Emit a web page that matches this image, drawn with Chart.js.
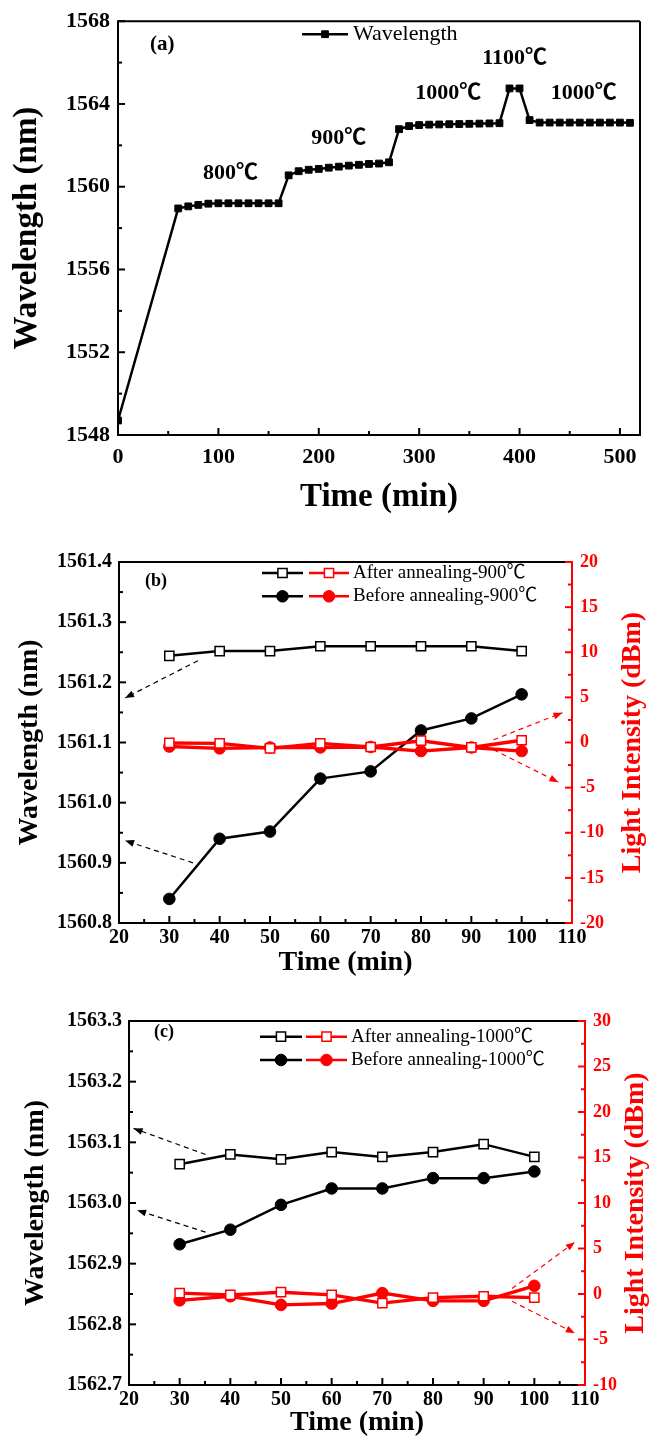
<!DOCTYPE html>
<html>
<head>
<meta charset="utf-8">
<title>Wavelength and light intensity during annealing</title>
<script src="https://cdn.jsdelivr.net/npm/chart.js@4.4.1/dist/chart.umd.min.js"></script>
<style>
  body { margin: 0; background: #fff; }
  canvas { display: block; }
</style>
</head>
<body>
<canvas id="chartA" width="651" height="520"></canvas>
<canvas id="chartB" width="651" height="460"></canvas>
<canvas id="chartC" width="651" height="456"></canvas>
<script>
// --- data (a): wavelength during the stepped annealing ---
const aTime = [0,
  60, 70, 80, 90, 100, 110, 120, 130, 140, 150, 160,
  170, 180, 190, 200, 210, 220, 230, 240, 250, 260, 270,
  280, 290, 300, 310, 320, 330, 340, 350, 360, 370, 380,
  390, 400,
  410, 420, 430, 440, 450, 460, 470, 480, 490, 500, 510];
const aWave = [1548.7,
  1558.95, 1559.05, 1559.12, 1559.18, 1559.2, 1559.2, 1559.2, 1559.2, 1559.2, 1559.2, 1559.2,
  1560.55, 1560.75, 1560.82, 1560.86, 1560.92, 1560.97, 1561.02, 1561.06, 1561.1, 1561.12, 1561.18,
  1562.78, 1562.93, 1562.98, 1563.0, 1563.01, 1563.02, 1563.03, 1563.04, 1563.05, 1563.06, 1563.07,
  1564.75, 1564.75,
  1563.22, 1563.1, 1563.1, 1563.1, 1563.1, 1563.1, 1563.1, 1563.1, 1563.1, 1563.1, 1563.09];
const aTimeTicks = [0, 100, 200, 300, 400, 500];
const aWaveTicks = [1548, 1552, 1556, 1560, 1564, 1568];

// --- data (b): 900 C ---
const bTime = [30, 40, 50, 60, 70, 80, 90, 100];
const bAfterWave = [1561.244, 1561.252, 1561.252, 1561.26, 1561.26, 1561.26, 1561.26, 1561.252];
const bBeforeWave = [1560.84, 1560.94, 1560.952, 1561.04, 1561.052, 1561.12, 1561.14, 1561.18];
const bAfterPower = [-0.05, -0.1, -0.65, -0.1, -0.5, 0.2, -0.55, 0.25];
const bBeforePower = [-0.45, -0.65, -0.55, -0.55, -0.5, -0.95, -0.55, -0.95];
const bWaveTicks = [1560.8, 1560.9, 1561.0, 1561.1, 1561.2, 1561.3, 1561.4];
const bPowerTicks = [-20, -15, -10, -5, 0, 5, 10, 15, 20];

// --- data (c): 1000 C ---
const cTime = [30, 40, 50, 60, 70, 80, 90, 100];
const cAfterWave = [1563.064, 1563.08, 1563.072, 1563.084, 1563.076, 1563.084, 1563.097, 1563.076];
const cBeforeWave = [1562.932, 1562.956, 1562.997, 1563.024, 1563.024, 1563.041, 1563.041, 1563.052];
const cAfterPower = [0.1, -0.1, 0.2, -0.1, -1.0, -0.4, -0.25, -0.4];
const cBeforePower = [-0.7, -0.25, -1.2, -1.05, 0.1, -0.75, -0.75, 0.9];
const cWaveTicks = [1562.7, 1562.8, 1562.9, 1563.0, 1563.1, 1563.2, 1563.3];
const cPowerTicks = [-10, -5, 0, 5, 10, 15, 20, 25, 30];

const bcTimeTicks = [20, 30, 40, 50, 60, 70, 80, 90, 100, 110];

const RED = '#ff0000';
const FONT = '"Liberation Serif", "Times New Roman", "Noto Sans CJK SC", serif';

// labelled ticks plus an unlabelled one halfway between each pair
function withMinor(major) {
    const out = [];
    major.forEach((v, i) => {
        out.push({ value: v });
        if (i < major.length - 1) out.push({ value: (v + major[i + 1]) / 2, minor: true });
    });
    return out;
}

function pts(xs, ys) {
    return xs.map((x, i) => ({ x: x, y: ys[i] }));
}

function drawArrow(ctx, x1, y1, x2, y2, color) {
    ctx.save();
    ctx.strokeStyle = color;
    ctx.fillStyle = color;
    ctx.lineWidth = 1.2;
    ctx.setLineDash([5, 4]);
    ctx.beginPath(); ctx.moveTo(x1, y1); ctx.lineTo(x2, y2); ctx.stroke();
    ctx.setLineDash([]);
    const ang = Math.atan2(y2 - y1, x2 - x1), L = 9, W = 3.5;
    ctx.beginPath();
    ctx.moveTo(x2, y2);
    ctx.lineTo(x2 - L * Math.cos(ang) + W * Math.sin(ang), y2 - L * Math.sin(ang) - W * Math.cos(ang));
    ctx.lineTo(x2 - L * Math.cos(ang) - W * Math.sin(ang), y2 - L * Math.sin(ang) + W * Math.cos(ang));
    ctx.closePath(); ctx.fill();
    ctx.restore();
}

function inwardTicks(ctx, scale, side, color) {
    ctx.strokeStyle = color;
    ctx.lineWidth = 2;
    scale.ticks.forEach(t => {
        const len = t.minor ? 4 : 7;
        const p = scale.getPixelForValue(t.value);
        ctx.beginPath();
        if (side === 'bottom') { ctx.moveTo(p, scale.top); ctx.lineTo(p, scale.top - len); }
        else if (side === 'left') { ctx.moveTo(scale.right, p); ctx.lineTo(scale.right + len, p); }
        else { ctx.moveTo(scale.left, p); ctx.lineTo(scale.left - len, p); }
        ctx.stroke();
    });
}

function legendSample(ctx, x1, x2, y, color, marker) {
    ctx.save();
    ctx.strokeStyle = color;
    ctx.lineWidth = marker.lineWidth;
    ctx.beginPath(); ctx.moveTo(x1, y); ctx.lineTo(x2, y); ctx.stroke();
    ctx.fillStyle = marker.fill === 'solid' ? color : '#fff';
    ctx.lineWidth = marker.borderWidth;
    Chart.helpers.drawPoint(ctx, { pointStyle: marker.style, radius: marker.radius, borderWidth: marker.borderWidth, rotation: 0 }, (x1 + x2) / 2, y);
    ctx.restore();
}

// frame, inward ticks, legend, notes and arrows for one panel
function decorPlugin(cfg) {
    return {
        id: 'decor',
        afterDatasetsDraw(chart) {
            const { ctx, chartArea: a, scales } = chart;
            ctx.save();
            ctx.lineWidth = 2;
            ctx.strokeStyle = '#000';
            ctx.beginPath();
            ctx.moveTo(a.right, a.top); ctx.lineTo(a.left, a.top);
            ctx.lineTo(a.left, a.bottom); ctx.lineTo(a.right, a.bottom);
            if (!scales.yR) ctx.lineTo(a.right, a.top);
            ctx.stroke();
            inwardTicks(ctx, scales.x, 'bottom', '#000');
            inwardTicks(ctx, scales.y, 'left', '#000');
            if (scales.yR) {
                ctx.strokeStyle = RED;
                ctx.beginPath(); ctx.moveTo(a.right, a.top - 1); ctx.lineTo(a.right, a.bottom + 1); ctx.stroke();
                inwardTicks(ctx, scales.yR, 'right', RED);
                // right title reads bottom to top
                ctx.save();
                ctx.translate(scales.yR.right - cfg.rightTitleGap, (a.top + a.bottom) / 2);
                ctx.rotate(-Math.PI / 2);
                ctx.fillStyle = RED;
                ctx.font = 'bold 28px ' + FONT;
                ctx.textAlign = 'center';
                ctx.textBaseline = 'middle';
                ctx.fillText('Light Intensity (dBm)', 0, 0);
                ctx.restore();
            }

            // panel tag
            ctx.fillStyle = '#000';
            ctx.font = 'bold ' + cfg.tag.size + 'px ' + FONT;
            ctx.textAlign = 'left';
            ctx.textBaseline = 'middle';
            ctx.fillText(cfg.tag.text, a.left + cfg.tag.dx, a.top + cfg.tag.dy);

            // legend rows
            const lg = cfg.legend;
            lg.rows.forEach((row, i) => {
                const y = a.top + lg.dy + i * lg.rowGap;
                row.samples.forEach(s => legendSample(ctx, a.left + s.x1, a.left + s.x2, y, s.color, s.marker));
                ctx.fillStyle = '#000';
                ctx.font = lg.size + 'px ' + FONT;
                ctx.textAlign = 'left';
                ctx.textBaseline = 'middle';
                ctx.fillText(row.text, a.left + lg.textX, y);
            });

            // temperature notes in data units
            (cfg.notes || []).forEach(n => {
                ctx.fillStyle = '#000';
                ctx.font = 'bold 22px ' + FONT;
                ctx.textAlign = 'center';
                ctx.textBaseline = 'middle';
                ctx.fillText(n.text, scales.x.getPixelForValue(n.x), scales.y.getPixelForValue(n.y));
            });

            // dashed arrows pointing at the axis each curve belongs to
            (cfg.arrows || []).forEach(ar => {
                const ys = scales[ar.axis];
                drawArrow(ctx, scales.x.getPixelForValue(ar.from[0]), ys.getPixelForValue(ar.from[1]),
                    scales.x.getPixelForValue(ar.to[0]), ys.getPixelForValue(ar.to[1]),
                    ar.axis === 'yR' ? RED : '#000');
            });
            ctx.restore();
        }
    };
}

function axisX(min, max, ticks, height, pad, tickSize, titleSize, titlePad) {
    return {
        type: 'linear', position: 'bottom', min: min, max: max,
        afterBuildTicks: s => { s.ticks = withMinor(ticks); },
        afterFit: s => { s.height = height; },
        grid: { display: false, drawTicks: false },
        border: { display: false },
        ticks: {
            autoSkip: false, maxRotation: 0, padding: pad, color: '#000',
            font: { family: FONT, size: tickSize, weight: 'bold' },
            callback: (v, i, t) => t[i].minor ? '' : String(v)
        },
        title: {
            display: true, text: 'Time (min)', color: '#000',
            font: { family: FONT, size: titleSize, weight: 'bold' },
            padding: { top: 0, bottom: titlePad }
        }
    };
}

function axisY(pos, min, max, ticks, width, opts) {
    return {
        type: 'linear', position: pos, min: min, max: max,
        afterBuildTicks: s => { s.ticks = withMinor(ticks); },
        afterFit: s => { s.width = width; },
        grid: { display: false, drawTicks: false },
        border: { display: false },
        ticks: {
            autoSkip: false, padding: opts.pad, color: opts.color,
            font: { family: FONT, size: opts.tickSize, weight: 'bold' },
            callback: (v, i, t) => t[i].minor ? '' : (opts.decimals ? v.toFixed(opts.decimals) : String(v))
        },
        title: {
            display: !!opts.title, text: opts.title || '', color: opts.color,
            font: { family: FONT, size: opts.titleSize || 12, weight: 'bold' },
            padding: { top: opts.titlePad || 0, bottom: 0 }
        }
    };
}

function baseOptions(padding, scales) {
    return {
        responsive: false,
        animation: false,
        events: [],
        layout: { padding: padding },
        plugins: { legend: { display: false }, tooltip: { enabled: false } },
        scales: scales
    };
}

const hollowSq = { style: 'rect', radius: 6.5, borderWidth: 1.5, fill: 'hollow', lineWidth: 2.5 };
const solidCircle = { style: 'circle', radius: 5.8, borderWidth: 1, fill: 'solid', lineWidth: 2.5 };

function pairDatasets(time, afterWave, beforeWave, afterPower, beforePower) {
    // red sets first so they are painted on top
    return [
        { data: pts(time, afterPower), yAxisID: 'yR', borderColor: RED, borderWidth: 3.4,
          pointStyle: 'rect', pointRadius: 6.5, pointBackgroundColor: '#fff', pointBorderColor: RED, pointBorderWidth: 1.5 },
        { data: pts(time, beforePower), yAxisID: 'yR', borderColor: RED, borderWidth: 3.4,
          pointStyle: 'circle', pointRadius: 5.8, pointBackgroundColor: RED, pointBorderColor: RED, pointBorderWidth: 1 },
        { data: pts(time, afterWave), yAxisID: 'y', borderColor: '#000', borderWidth: 2.5,
          pointStyle: 'rect', pointRadius: 6.5, pointBackgroundColor: '#fff', pointBorderColor: '#000', pointBorderWidth: 1.5 },
        { data: pts(time, beforeWave), yAxisID: 'y', borderColor: '#000', borderWidth: 2.5,
          pointStyle: 'circle', pointRadius: 5.8, pointBackgroundColor: '#000', pointBorderColor: '#000', pointBorderWidth: 1 }
    ];
}

function pairLegend(temp, blackX, redX, textX, dy) {
    return {
        dy: dy, rowGap: 23.3, size: 19, textX: textX,
        rows: [
            { text: 'After annealing-' + temp, samples: [
                { x1: blackX[0], x2: blackX[1], color: '#000', marker: hollowSq },
                { x1: redX[0], x2: redX[1], color: RED, marker: hollowSq }] },
            { text: 'Before annealing-' + temp, samples: [
                { x1: blackX[0], x2: blackX[1], color: '#000', marker: solidCircle },
                { x1: redX[0], x2: redX[1], color: RED, marker: solidCircle }] }
        ]
    };
}

// --- (a) ---
new Chart(document.getElementById('chartA'), {
    type: 'line',
    data: {
        datasets: [{
            label: 'Wavelength', data: pts(aTime, aWave),
            borderColor: '#000', borderWidth: 2.5, tension: 0,
            pointStyle: 'rect', pointRadius: 4.8, pointBackgroundColor: '#000', pointBorderColor: '#000', pointBorderWidth: 1
        }]
    },
    options: baseOptions({ top: 20, right: 11, left: 0, bottom: 0 }, {
        x: axisX(0, 520, aTimeTicks, 85, 9, 22, 33, 3),
        y: axisY('left', 1548, 1568, aWaveTicks, 118, { pad: 8, color: '#000', tickSize: 22, title: 'Wavelength (nm)', titleSize: 33, titlePad: 8 })
    }),
    plugins: [decorPlugin({
        tag: { text: '(a)', size: 21, dx: 32, dy: 23 },
        legend: {
            dy: 13, rowGap: 0, size: 22, textX: 235,
            rows: [{ text: 'Wavelength', samples: [{ x1: 184, x2: 230, color: '#000',
                marker: { style: 'rect', radius: 4.8, borderWidth: 1, fill: 'solid', lineWidth: 2.5 } }] }]
        },
        notes: [
            { text: '800℃', x: 112, y: 1560.63 },
            { text: '900℃', x: 220, y: 1562.36 },
            { text: '1000℃', x: 329, y: 1564.53 },
            { text: '1100℃', x: 395, y: 1566.2 },
            { text: '1000℃', x: 464, y: 1564.53 }
        ]
    })]
});

// --- (b) ---
new Chart(document.getElementById('chartB'), {
    type: 'line',
    data: { datasets: pairDatasets(bTime, bAfterWave, bBeforeWave, bAfterPower, bBeforePower) },
    options: baseOptions({ top: 42, right: 0, left: 0, bottom: 0 }, {
        x: axisX(20, 110, bcTimeTicks, 57, 3, 20, 28, 0),
        y: axisY('left', 1560.8, 1561.4, bWaveTicks, 119, { pad: 7, color: '#000', tickSize: 20, decimals: 1, title: 'Wavelength (nm)', titleSize: 28, titlePad: 13 }),
        yR: axisY('right', -20, 20, bPowerTicks, 79, { pad: 8, color: RED, tickSize: 18 })
    }),
    plugins: [decorPlugin({
        tag: { text: '(b)', size: 18, dx: 26, dy: 19 },
        rightTitleGap: 18,
        legend: pairLegend('900℃', [143, 184], [190, 230], 234, 11),
        arrows: [
            { axis: 'y', from: [35.7, 1561.236], to: [21.2, 1561.174] },
            { axis: 'y', from: [34.7, 1560.90], to: [21.2, 1560.937] },
            { axis: 'yR', from: [94.4, 0.3], to: [108.1, 3.3] },
            { axis: 'yR', from: [94.4, -0.8], to: [107.3, -4.4] }
        ]
    })]
});

// --- (c) ---
new Chart(document.getElementById('chartC'), {
    type: 'line',
    data: { datasets: pairDatasets(cTime, cAfterWave, cBeforeWave, cAfterPower, cBeforePower) },
    options: baseOptions({ top: 41, right: 0, left: 0, bottom: 0 }, {
        x: axisX(20, 110, bcTimeTicks, 51, 3, 20, 28, -4),
        y: axisY('left', 1562.7, 1563.3, cWaveTicks, 129, { pad: 7, color: '#000', tickSize: 20, decimals: 1, title: 'Wavelength (nm)', titleSize: 28, titlePad: 19 }),
        yR: axisY('right', -10, 30, cPowerTicks, 66, { pad: 8, color: RED, tickSize: 18 })
    }),
    plugins: [decorPlugin({
        tag: { text: '(c)', size: 18, dx: 25, dy: 11 },
        rightTitleGap: 15,
        legend: pairLegend('1000℃', [131, 173], [177, 218], 222, 15.7),
        arrows: [
            { axis: 'y', from: [35.1, 1563.080], to: [20.9, 1563.123] },
            { axis: 'y', from: [35.1, 1562.952], to: [21.6, 1562.988] },
            { axis: 'yR', from: [95.6, 0.6], to: [108.0, 5.7] },
            { axis: 'yR', from: [95.6, -0.8], to: [108.0, -4.3] }
        ]
    })]
});
</script>
</body>
</html>
